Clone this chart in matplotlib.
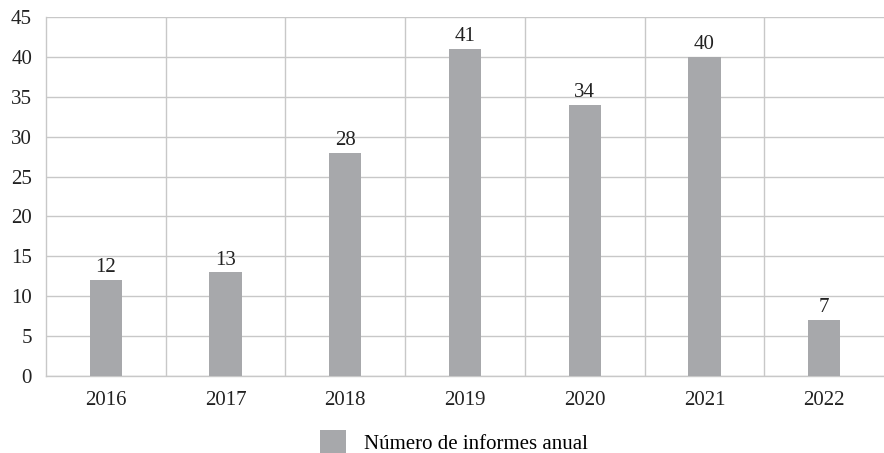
import matplotlib.pyplot as plt
import numpy as np

# Data
years = ['2016', '2017', '2018', '2019', '2020', '2021', '2022']
informes = [12, 13, 28, 41, 34, 40, 7]

plt.rcParams['font.family'] = ['Liberation Serif', 'DejaVu Serif']

grid_color = '#c8c8c8'
bar_color = '#a7a8ab'

fig = plt.figure(figsize=(8.84, 4.53), dpi=100)
ax = fig.add_axes([46 / 884, 1 - 376 / 453, 1 - 46 / 884, (376 - 17) / 453])

x = np.arange(len(years))
bars = ax.bar(x, informes, width=0.27, color=bar_color, zorder=3,
              label='Número de informes anual')

for rect, v in zip(bars, informes):
    ax.annotate(str(v), (rect.get_x() + rect.get_width() / 2, v),
                xytext=(0, 2), textcoords='offset points',
                ha='center', va='bottom', fontsize=15, color='#222222')

ax.set_xlim(-0.5, len(years) - 0.5)
ax.set_ylim(0, 45)
ax.set_yticks(range(0, 46, 5))
ax.set_xticks(x)
ax.set_xticklabels(years)
ax.set_xticks(x[:-1] + 0.5, minor=True)

ax.grid(axis='y', which='major', color=grid_color, linewidth=1, zorder=0)
ax.grid(axis='x', which='minor', color=grid_color, linewidth=1, zorder=0)
ax.tick_params(axis='both', which='both', length=0, labelsize=15, colors='#222222')
ax.tick_params(axis='x', pad=11)
ax.tick_params(axis='y', pad=10)

for side in ['top', 'right']:
    ax.spines[side].set_visible(False)
for side in ['left', 'bottom']:
    ax.spines[side].set_color(grid_color)
    ax.spines[side].set_linewidth(1)

handles, labels = ax.get_legend_handles_labels()
fig.legend(handles, labels, loc='center', bbox_to_anchor=(454 / 884, 11 / 453),
           frameon=False, fontsize=15, handlelength=1.25, handleheight=1.25,
           handletextpad=0.9, borderpad=0)

fig.savefig('out.png', dpi=100)
